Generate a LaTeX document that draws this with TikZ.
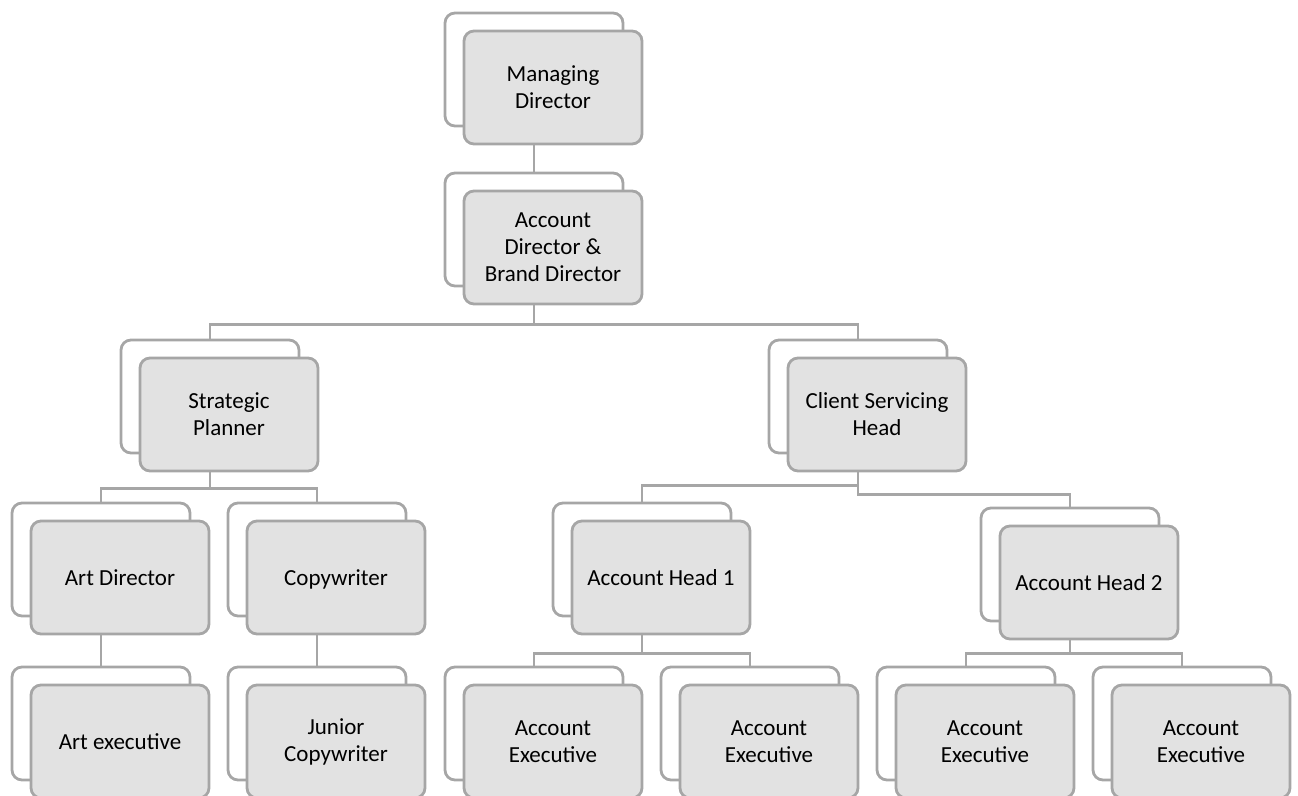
\documentclass[tikz,border=0pt]{standalone}
\usepackage{amsmath}
\usepackage{fontspec}
\setmainfont{Carlito}
\definecolor{boxline}{RGB}{166,166,166}
\definecolor{boxfill}{RGB}{226,226,226}
\begin{document}
\begin{tikzpicture}[x=0.5pt, y=-0.5pt,
    unitback/.style={draw=boxline, line width=1.4pt, fill=white, rounded corners=5pt,
        minimum width=89pt, minimum height=56.5pt, inner sep=0pt},
    unitfront/.style={unitback, fill=boxfill, align=center,
        font=\fontsize{11.5}{13.5}\selectfont},
    link/.style={draw=boxline, line width=1.3pt}]
    \useasboundingbox (0,0) rectangle (1298,796);
    % top
    \node[unitback] (mdb) at (534, 69.5) {};
    \node[unitfront] (md) at (553, 87.5) {Managing\\Director};
    \node[unitback] (accdb) at (534, 229.5) {};
    \node[unitfront] (accd) at (553, 247.5) {Account\\Director \&\\Brand Director};
    % second level
    \node[unitback] (spb) at (210, 396.5) {};
    \node[unitfront] (sp) at (229, 414.5) {Strategic\\Planner};
    \node[unitback] (cshb) at (858, 396.5) {};
    \node[unitfront] (csh) at (877, 414.5) {Client Servicing\\Head};
    % third level
    \node[unitback] (artdb) at (101, 559.5) {};
    \node[unitfront] (artd) at (120, 577.5) {Art Director};
    \node[unitback] (cwb) at (317, 559.5) {};
    \node[unitfront] (cw) at (336, 577.5) {\smash[b]{Copywriter}};
    \node[unitback] (ah1b) at (642, 559.5) {};
    \node[unitfront] (ah1) at (661, 577.5) {Account Head 1};
    \node[unitback] (ah2b) at (1070, 564.5) {};
    \node[unitfront] (ah2) at (1089, 582.5) {Account Head 2};
    % bottom
    \node[unitback] (arteb) at (101, 723.5) {};
    \node[unitfront] (arte) at (120, 741.5) {Art executive};
    \node[unitback] (jcwb) at (317, 723.5) {};
    \node[unitfront] (jcw) at (336, 741.5) {Junior\\Copywriter};
    \node[unitback] (ae1b) at (534, 723.5) {};
    \node[unitfront] (ae1) at (553, 741.5) {Account\\Executive};
    \node[unitback] (ae2b) at (750, 723.5) {};
    \node[unitfront] (ae2) at (769, 741.5) {Account\\Executive};
    \node[unitback] (ae3b) at (966, 723.5) {};
    \node[unitfront] (ae3) at (985, 741.5) {Account\\Executive};
    \node[unitback] (ae4b) at (1182, 723.5) {};
    \node[unitfront] (ae4) at (1201, 741.5) {Account\\Executive};
    % connectors
    \draw[link] (mdb |- md.south) -- (accdb.north);
    \draw[link] (accdb |- accd.south) -- ++(0,19) coordinate (accdbus);
    \draw[link] (spb.north) |- (accdbus) -| (cshb.north);
    \draw[link] (spb |- sp.south) -- ++(0,16) coordinate (spbus);
    \draw[link] (artdb.north) |- (spbus) -| (cwb.north);
    \draw[link] (cshb |- csh.south) -- ++(0,22) coordinate (cshbus) -| (ah2b.north);
    \draw[link] (ah1b.north) -- ++(0,-16) -| (cshbus);
    \draw[link] (artdb |- artd.south) -- (arteb.north);
    \draw[link] (cwb |- cw.south) -- (jcwb.north);
    \draw[link] (ah1b |- ah1.south) -- ++(0,18) coordinate (ah1bus);
    \draw[link] (ae1b.north) |- (ah1bus) -| (ae2b.north);
    \draw[link] (ah2b |- ah2.south) -- ++(0,13) coordinate (ah2bus);
    \draw[link] (ae3b.north) |- (ah2bus) -| (ae4b.north);
\end{tikzpicture}
\end{document}
